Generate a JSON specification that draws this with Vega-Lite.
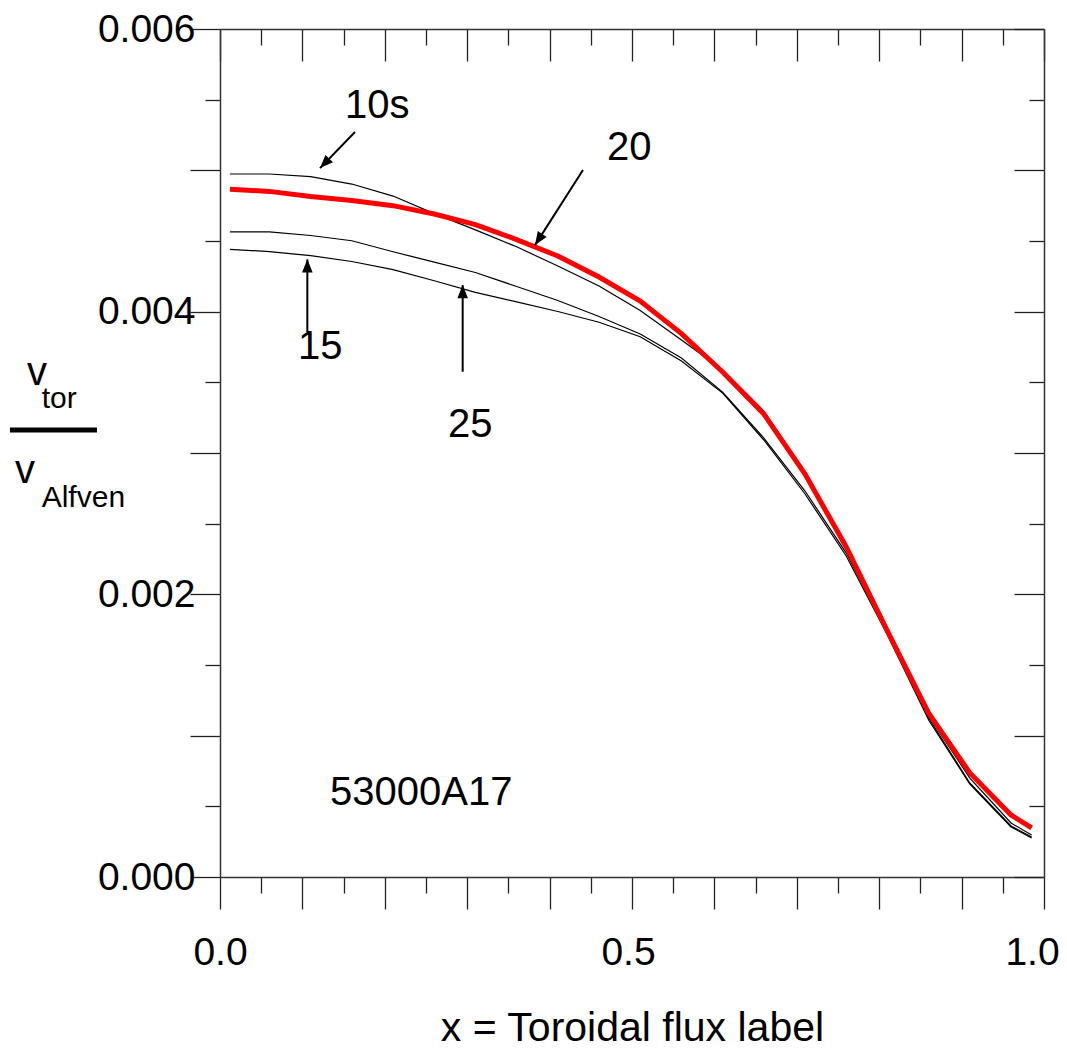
{
  "$schema": "https://vega.github.io/schema/vega-lite/v6.json",
  "width": 824,
  "height": 848,
  "autosize": {"type": "none"},
  "padding": {"left": 220, "top": 29, "right": 23, "bottom": 175},
  "background": "white",
  "config": {
    "view": {"stroke": null},
    "font": "Liberation Sans",
    "axis": {
      "grid": false,
      "domainColor": "#333333",
      "domainWidth": 1.5,
      "tickColor": "#222222",
      "tickWidth": 1.3,
      "labelFont": "Liberation Sans",
      "labelFontSize": 39,
      "labelColor": "black",
      "labelOverlap": false,
      "labelFlush": false,
      "titleFont": "Liberation Sans",
      "titleFontWeight": "normal",
      "titleColor": "black"
    }
  },
  "datasets": {
    "curves": [
      {"t": "10s", "x": 0.012, "v": 0.004974}, {"t": "10s", "x": 0.06, "v": 0.004974}, {"t": "10s", "x": 0.11, "v": 0.004956}, {"t": "10s", "x": 0.16, "v": 0.004903}, {"t": "10s", "x": 0.21, "v": 0.004818}, {"t": "10s", "x": 0.26, "v": 0.004694}, {"t": "10s", "x": 0.31, "v": 0.004579}, {"t": "10s", "x": 0.36, "v": 0.004459}, {"t": "10s", "x": 0.41, "v": 0.004323}, {"t": "10s", "x": 0.46, "v": 0.004181}, {"t": "10s", "x": 0.51, "v": 0.004008}, {"t": "10s", "x": 0.56, "v": 0.003799}, {"t": "10s", "x": 0.61, "v": 0.003587}, {"t": "10s", "x": 0.66, "v": 0.003297}, {"t": "10s", "x": 0.71, "v": 0.002865}, {"t": "10s", "x": 0.76, "v": 0.002349}, {"t": "10s", "x": 0.81, "v": 0.001748}, {"t": "10s", "x": 0.86, "v": 0.001139}, {"t": "10s", "x": 0.91, "v": 0.0007}, {"t": "10s", "x": 0.96, "v": 0.000382}, {"t": "10s", "x": 0.985, "v": 0.000297},
      {"t": "15", "x": 0.012, "v": 0.004565}, {"t": "15", "x": 0.06, "v": 0.004565}, {"t": "15", "x": 0.11, "v": 0.004539}, {"t": "15", "x": 0.16, "v": 0.004502}, {"t": "15", "x": 0.21, "v": 0.004424}, {"t": "15", "x": 0.26, "v": 0.004351}, {"t": "15", "x": 0.31, "v": 0.004277}, {"t": "15", "x": 0.36, "v": 0.004178}, {"t": "15", "x": 0.41, "v": 0.004079}, {"t": "15", "x": 0.46, "v": 0.003966}, {"t": "15", "x": 0.51, "v": 0.003842}, {"t": "15", "x": 0.56, "v": 0.003672}, {"t": "15", "x": 0.61, "v": 0.003431}, {"t": "15", "x": 0.66, "v": 0.003106}, {"t": "15", "x": 0.71, "v": 0.002731}, {"t": "15", "x": 0.76, "v": 0.002292}, {"t": "15", "x": 0.81, "v": 0.001726}, {"t": "15", "x": 0.86, "v": 0.001125}, {"t": "15", "x": 0.91, "v": 0.000665}, {"t": "15", "x": 0.96, "v": 0.000361}, {"t": "15", "x": 0.985, "v": 0.000283},
      {"t": "20", "x": 0.012, "v": 0.004866}, {"t": "20", "x": 0.06, "v": 0.004851}, {"t": "20", "x": 0.11, "v": 0.004815}, {"t": "20", "x": 0.16, "v": 0.004786}, {"t": "20", "x": 0.21, "v": 0.00475}, {"t": "20", "x": 0.26, "v": 0.004691}, {"t": "20", "x": 0.31, "v": 0.004616}, {"t": "20", "x": 0.36, "v": 0.00451}, {"t": "20", "x": 0.41, "v": 0.004394}, {"t": "20", "x": 0.46, "v": 0.004245}, {"t": "20", "x": 0.51, "v": 0.004075}, {"t": "20", "x": 0.56, "v": 0.003845}, {"t": "20", "x": 0.61, "v": 0.003573}, {"t": "20", "x": 0.66, "v": 0.003276}, {"t": "20", "x": 0.71, "v": 0.002851}, {"t": "20", "x": 0.76, "v": 0.002335}, {"t": "20", "x": 0.81, "v": 0.00174}, {"t": "20", "x": 0.86, "v": 0.00116}, {"t": "20", "x": 0.91, "v": 0.000736}, {"t": "20", "x": 0.96, "v": 0.000439}, {"t": "20", "x": 0.985, "v": 0.000347},
      {"t": "25", "x": 0.012, "v": 0.004441}, {"t": "25", "x": 0.06, "v": 0.004425}, {"t": "25", "x": 0.11, "v": 0.004396}, {"t": "25", "x": 0.16, "v": 0.004355}, {"t": "25", "x": 0.21, "v": 0.004298}, {"t": "25", "x": 0.26, "v": 0.004219}, {"t": "25", "x": 0.31, "v": 0.004137}, {"t": "25", "x": 0.36, "v": 0.004069}, {"t": "25", "x": 0.41, "v": 0.004001}, {"t": "25", "x": 0.46, "v": 0.003925}, {"t": "25", "x": 0.51, "v": 0.003823}, {"t": "25", "x": 0.56, "v": 0.003651}, {"t": "25", "x": 0.61, "v": 0.003424}, {"t": "25", "x": 0.66, "v": 0.003092}, {"t": "25", "x": 0.71, "v": 0.00271}, {"t": "25", "x": 0.76, "v": 0.002271}, {"t": "25", "x": 0.81, "v": 0.001712}, {"t": "25", "x": 0.86, "v": 0.001111}, {"t": "25", "x": 0.91, "v": 0.000658}, {"t": "25", "x": 0.96, "v": 0.000354}, {"t": "25", "x": 0.985, "v": 0.000276}
    ],
    "notes": [
      {"label": "10s", "x": 0.1517, "v": 0.00537},
      {"label": "20", "x": 0.4697, "v": 0.005073},
      {"label": "15", "x": 0.0947, "v": 0.003665},
      {"label": "25", "x": 0.2767, "v": 0.003113},
      {"label": "53000A17", "x": 0.1335, "v": 0.000509}
    ],
    "arrows": [
      {"label": "10s", "x": 0.1638, "v": 0.005271, "x2": 0.1214, "v2": 0.005016},
      {"label": "20", "x": 0.4405, "v": 0.005002, "x2": 0.3823, "v2": 0.004471},
      {"label": "15", "x": 0.106, "v": 0.003856, "x2": 0.106, "v2": 0.00437},
      {"label": "25", "x": 0.2945, "v": 0.003575, "x2": 0.2945, "v2": 0.004188}
    ],
    "ylab": [
      {"t": "v", "x": -0.2342, "v": 0.003481, "k": "big"},
      {"t": "tor", "x": -0.2164, "v": 0.003318, "k": "sub"},
      {"t": "v", "x": -0.2488, "v": 0.002788, "k": "big"},
      {"t": "Alfven", "x": -0.2164, "v": 0.002618, "k": "sub"}
    ],
    "bar": [{"x": -0.2549, "x2": -0.1493, "v": 0.003163}]
  },
  "layer": [
    {
      "data": {"name": "curves"},
      "transform": [{"filter": "datum.t != '20'"}],
      "mark": {"type": "line", "color": "black", "strokeWidth": 1.2},
      "encoding": {
        "x": {
          "field": "x", "type": "quantitative",
          "scale": {"domain": [0, 1], "nice": false, "zero": false},
          "axis": {
            "orient": "bottom",
            "values": [0, 0.05, 0.1, 0.15, 0.2, 0.25, 0.3, 0.35, 0.4, 0.45, 0.5, 0.55, 0.6, 0.65, 0.7, 0.75, 0.8, 0.85, 0.9, 0.95, 1],
            "tickSize": {"condition": {"test": "round(datum.value*100) % 10 == 0", "value": 32}, "value": 16},
            "labelExpr": "round(datum.value*100) % 50 == 0 ? format(datum.value, '.1f') : ''",
            "labelPadding": 24,
            "labelOffset": {"condition": [{"test": "datum.value == 1", "value": -12}, {"test": "datum.value == 0.5", "value": -4}], "value": 0},
            "title": "x = Toroidal flux label",
            "titleFontSize": 41,
            "titlePadding": 36
          }
        },
        "y": {
          "field": "v", "type": "quantitative",
          "scale": {"domain": [0, 0.006], "nice": false, "zero": false},
          "axis": {
            "orient": "left",
            "values": [0, 0.0005, 0.001, 0.0015, 0.002, 0.0025, 0.003, 0.0035, 0.004, 0.0045, 0.005, 0.0055, 0.006],
            "tickSize": {"condition": {"test": "round(datum.value*10000) % 10 == 0", "value": 30}, "value": 15},
            "labelExpr": "round(datum.value*10000) % 20 == 0 ? format(datum.value, '.3f') : ''",
            "labelPadding": -5,
            "title": null
          }
        },
        "detail": {"field": "t"}
      }
    },
    {
      "data": {"name": "curves"},
      "transform": [{"filter": "datum.t == '20'"}],
      "mark": {"type": "line", "color": "#ff0000", "strokeWidth": 5},
      "encoding": {
        "x": {
          "field": "x", "type": "quantitative",
          "axis": {
            "orient": "top",
            "values": [0, 0.05, 0.1, 0.15, 0.2, 0.25, 0.3, 0.35, 0.4, 0.45, 0.5, 0.55, 0.6, 0.65, 0.7, 0.75, 0.8, 0.85, 0.9, 0.95, 1],
            "tickSize": {"condition": {"test": "round(datum.value*100) % 10 == 0", "value": -32}, "value": -16},
            "labels": false,
            "title": null
          }
        },
        "y": {
          "field": "v", "type": "quantitative",
          "axis": {
            "orient": "right",
            "values": [0, 0.0005, 0.001, 0.0015, 0.002, 0.0025, 0.003, 0.0035, 0.004, 0.0045, 0.005, 0.0055, 0.006],
            "tickSize": {"condition": {"test": "round(datum.value*10000) % 10 == 0", "value": -30}, "value": -15},
            "labels": false,
            "title": null
          }
        }
      }
    },
    {
      "data": {"name": "arrows"},
      "mark": {"type": "rule", "color": "black", "strokeWidth": 2},
      "encoding": {
        "x": {"field": "x", "type": "quantitative", "axis": null},
        "y": {"field": "v", "type": "quantitative", "axis": null},
        "x2": {"field": "x2"},
        "y2": {"field": "v2"}
      }
    },
    {
      "data": {"name": "arrows"},
      "transform": [{"filter": "datum.label == '10s'"}],
      "mark": {"type": "point", "shape": "M0,0L0.4,1L-0.4,1Z", "filled": true, "color": "black", "opacity": 1, "size": 700, "angle": 224},
      "encoding": {
        "x": {"field": "x2", "type": "quantitative", "axis": null},
        "y": {"field": "v2", "type": "quantitative", "axis": null}
      }
    },
    {
      "data": {"name": "arrows"},
      "transform": [{"filter": "datum.label == '20'"}],
      "mark": {"type": "point", "shape": "M0,0L0.4,1L-0.4,1Z", "filled": true, "color": "black", "opacity": 1, "size": 700, "angle": 213},
      "encoding": {
        "x": {"field": "x2", "type": "quantitative", "axis": null},
        "y": {"field": "v2", "type": "quantitative", "axis": null}
      }
    },
    {
      "data": {"name": "arrows"},
      "transform": [{"filter": "datum.label == '15' || datum.label == '25'"}],
      "mark": {"type": "point", "shape": "M0,0L0.4,1L-0.4,1Z", "filled": true, "color": "black", "opacity": 1, "size": 700, "angle": 0},
      "encoding": {
        "x": {"field": "x2", "type": "quantitative", "axis": null},
        "y": {"field": "v2", "type": "quantitative", "axis": null}
      }
    },
    {
      "data": {"name": "notes"},
      "mark": {"type": "text", "align": "left", "baseline": "alphabetic", "fontSize": 40, "font": "Liberation Sans", "color": "black"},
      "encoding": {
        "x": {"field": "x", "type": "quantitative", "axis": null},
        "y": {"field": "v", "type": "quantitative", "axis": null},
        "text": {"field": "label"}
      }
    },
    {
      "data": {"name": "ylab"},
      "transform": [{"filter": "datum.k == 'big'"}],
      "mark": {"type": "text", "align": "left", "baseline": "alphabetic", "fontSize": 40, "font": "Liberation Sans", "color": "black"},
      "encoding": {
        "x": {"field": "x", "type": "quantitative", "axis": null},
        "y": {"field": "v", "type": "quantitative", "axis": null},
        "text": {"field": "t"}
      }
    },
    {
      "data": {"name": "ylab"},
      "transform": [{"filter": "datum.k == 'sub'"}],
      "mark": {"type": "text", "align": "left", "baseline": "alphabetic", "fontSize": 30, "font": "Liberation Sans", "color": "black"},
      "encoding": {
        "x": {"field": "x", "type": "quantitative", "axis": null},
        "y": {"field": "v", "type": "quantitative", "axis": null},
        "text": {"field": "t"}
      }
    },
    {
      "data": {"name": "bar"},
      "mark": {"type": "rule", "color": "black", "strokeWidth": 5},
      "encoding": {
        "x": {"field": "x", "type": "quantitative", "axis": null},
        "x2": {"field": "x2"},
        "y": {"field": "v", "type": "quantitative", "axis": null}
      }
    }
  ],
  "resolve": {"axis": {"x": "independent", "y": "independent"}}
}
